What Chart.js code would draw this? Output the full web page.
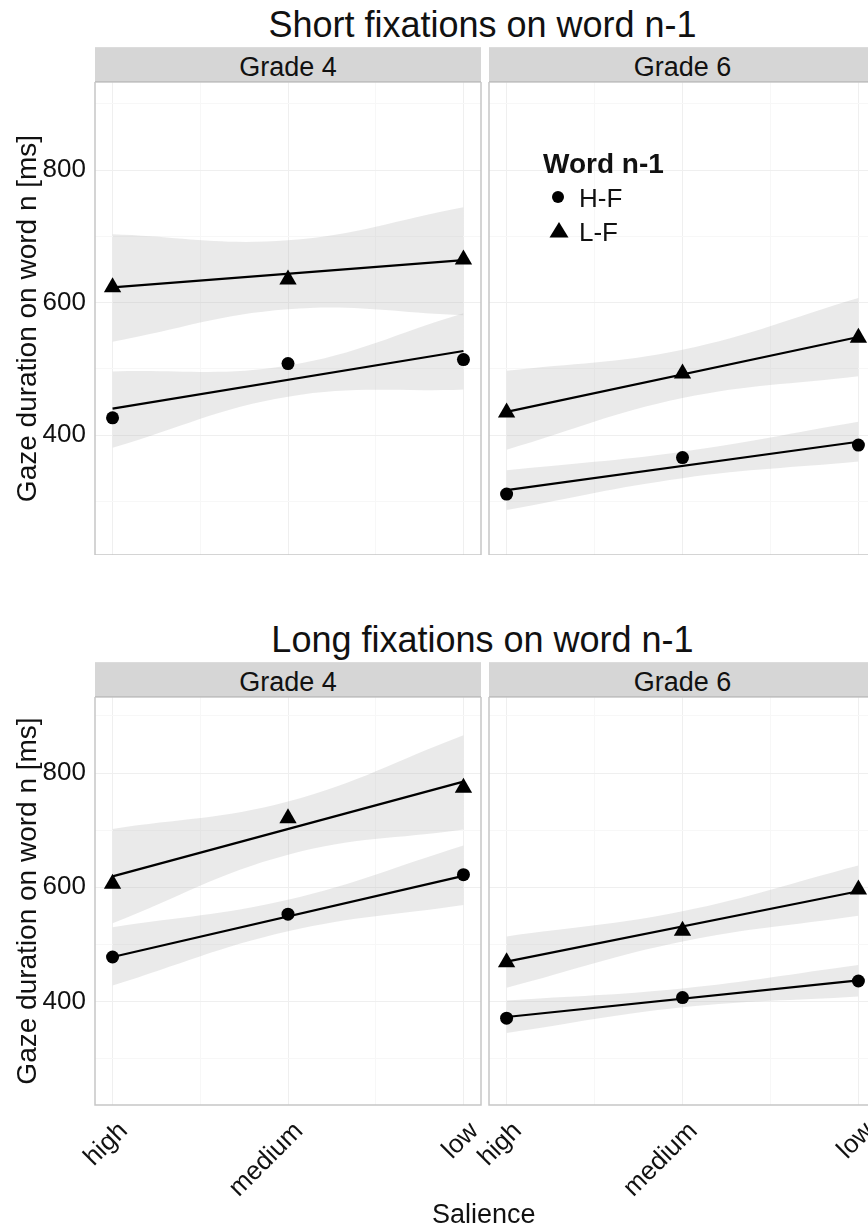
<!DOCTYPE html>
<html>
<head>
<meta charset="utf-8">
<script src="https://cdn.jsdelivr.net/npm/chart.js@4.4.1/dist/chart.umd.min.js"></script>
<style>
html,body{margin:0;padding:0;background:#fff;overflow:hidden;}
#wrap{position:relative;width:868px;height:1226px;overflow:hidden;font-family:"Liberation Sans",Arial,sans-serif;color:#111;}
.title{position:absolute;left:90px;width:785px;text-align:center;font-size:36px;line-height:36px;white-space:nowrap;}
.strip{position:absolute;height:35px;box-sizing:border-box;background:#d6d6d6;border-top:1px solid #dcdcdc;border-bottom:1px solid #c0c0c0;font-size:27px;line-height:31px;padding-top:4px;text-align:center;white-space:nowrap;}
canvas{position:absolute;}
.lg{position:absolute;white-space:nowrap;}
</style>
</head>
<body>
<div id="wrap">
  <div class="title" style="top:7px;">Short fixations on word n-1</div>
  <div class="strip" style="left:95px;top:47px;width:386px;">Grade 4</div>
  <div class="strip" style="left:489px;top:47px;width:387px;">Grade 6</div>
  <canvas id="c1" width="486" height="473" style="left:0;top:82px;"></canvas>
  <canvas id="c2" width="440" height="473" style="left:440px;top:82px;"></canvas>

  <div class="title" style="top:622px;">Long fixations on word n-1</div>
  <div class="strip" style="left:95px;top:662px;width:386px;">Grade 4</div>
  <div class="strip" style="left:489px;top:662px;width:387px;">Grade 6</div>
  <canvas id="c3" width="486" height="529" style="left:0;top:697px;"></canvas>
  <canvas id="c4" width="440" height="529" style="left:440px;top:697px;"></canvas>

  <div class="lg" style="left:543px;top:150px;font-size:28px;line-height:28px;font-weight:bold;">Word n-1</div>
  <svg class="lg" style="left:550px;top:189px;" width="16" height="16"><circle cx="8" cy="8" r="6" fill="#000"/></svg>
  <div class="lg" style="left:579px;top:185px;font-size:26px;line-height:26px;">H-F</div>
  <svg class="lg" style="left:548px;top:221px;" width="22" height="18"><polygon points="11,1 20.5,16.5 1.5,16.5" fill="#000"/></svg>
  <div class="lg" style="left:579px;top:219px;font-size:26px;line-height:26px;">L-F</div>

  <div class="lg" style="left:432px;top:1201px;font-size:27px;line-height:27px;">Salience</div>
</div>

<script>
// ---------- data ----------
const salience = ['high', 'medium', 'low'];
const salienceX = [1, 2, 3];
const xGridValues = [1, 1.5, 2, 2.5, 3];
const yTickValues = [300, 400, 500, 600, 700, 800, 900];
const yLabelValues = [400, 600, 800];
const yTitle = 'Gaze duration on word n [ms]';

// Short fixations on word n-1, Grade 4
const shortG4_HF = [426, 508, 514];
const shortG4_LF = [623, 635, 665];
const shortG4_HF_fit = [440, 527];
const shortG4_LF_fit = [623, 664];
const shortG4_HF_upper = [496, 505, 584];
const shortG4_HF_lower = [381, 458, 469];
const shortG4_LF_upper = [703, 694, 744];
const shortG4_LF_lower = [541, 590, 581];

// Short fixations on word n-1, Grade 6
const shortG6_HF = [311, 366, 385];
const shortG6_LF = [434, 493, 547];
const shortG6_HF_fit = [317, 390];
const shortG6_LF_fit = [435, 548];
const shortG6_HF_upper = [347, 375, 420];
const shortG6_HF_lower = [287, 335, 360];
const shortG6_LF_upper = [497, 529, 607];
const shortG6_LF_lower = [378, 456, 489];

// Long fixations on word n-1, Grade 4
const longG4_HF = [478, 553, 622];
const longG4_LF = [606, 721, 774];
const longG4_HF_fit = [478, 620];
const longG4_LF_fit = [619, 785];
const longG4_HF_upper = [530, 578, 673];
const longG4_HF_lower = [428, 523, 569];
const longG4_LF_upper = [702, 750, 866];
const longG4_LF_lower = [537, 657, 701];

// Long fixations on word n-1, Grade 6
const longG6_HF = [371, 407, 436];
const longG6_LF = [469, 524, 596];
const longG6_HF_fit = [373, 437];
const longG6_LF_fit = [470, 593];
const longG6_HF_upper = [402, 423, 464];
const longG6_HF_lower = [345, 390, 409];
const longG6_LF_upper = [514, 558, 638];
const longG6_LF_lower = [424, 505, 550];

// ---------- chart ----------
const FONT = '"Liberation Sans", Arial, sans-serif';
Chart.defaults.font.family = FONT;
Chart.defaults.color = '#111';
const BAND = 'rgba(170,170,170,0.25)';

const panelBorder = {
  id: 'panelBorder',
  beforeDatasetsDraw(chart) {
    const {ctx, chartArea: a} = chart;
    ctx.save();
    ctx.strokeStyle = '#c6c6c6';
    ctx.lineWidth = 1.5;
    ctx.strokeRect(a.left, a.top, a.right - a.left, a.bottom - a.top);
    ctx.restore();
  }
};

function pts(ys) { return ys.map((y, i) => ({x: salienceX[i], y})); }
function fitPts(f) { return [{x: salienceX[0], y: f[0]}, {x: salienceX[salienceX.length - 1], y: f[1]}]; }

function makePanel(id, d, isLeft, isBottom) {
  const band = (ys, fill) => ({
    data: pts(ys), showLine: true, fill: fill, backgroundColor: BAND,
    borderWidth: 0, borderColor: 'rgba(0,0,0,0)', pointRadius: 0, tension: 0.4, order: 3
  });
  const fit = (f) => ({
    data: fitPts(f), showLine: true, fill: false, borderColor: '#000',
    borderWidth: 2.2, pointRadius: 0, order: 2
  });
  new Chart(document.getElementById(id), {
    type: 'scatter',
    data: {
      datasets: [
        band(d.hfU, '+1'), band(d.hfL, false),
        band(d.lfU, '+1'), band(d.lfL, false),
        fit(d.hfFit), fit(d.lfFit),
        {label: 'H-F', data: pts(d.hf), pointStyle: 'circle', pointRadius: 6.5,
         backgroundColor: '#000', borderWidth: 0, order: 1},
        {label: 'L-F', data: pts(d.lf), pointStyle: 'triangle', pointRadius: 10,
         backgroundColor: '#000', borderWidth: 0, order: 1}
      ]
    },
    options: {
      responsive: false, animation: false,
      layout: {autoPadding: false, padding: {left: 0, top: 0, bottom: 0, right: isLeft ? 5 : 4}},
      plugins: {legend: {display: false}, tooltip: {enabled: false}},
      scales: {
        x: {
          type: 'linear', min: 0.9, max: 3.1,
          afterBuildTicks: s => { s.ticks = xGridValues.map(v => ({value: v})); },
          afterFit: s => { s.height = isBottom ? 121 : 0; s.paddingLeft = 0; s.paddingRight = 0; s.paddingTop = 0; s.paddingBottom = 0; },
          ticks: {
            display: isBottom, autoSkip: false, minRotation: 45, maxRotation: 45,
            padding: 11, labelOffset: 11,
            font: {size: 26}, color: '#111',
            callback: v => Number.isInteger(v) ? salience[salienceX.indexOf(v)] : ''
          },
          grid: {drawTicks: false, lineWidth: 1,
                 color: c => Number.isInteger(c.tick.value) ? '#efefef' : '#f7f7f7'},
          border: {display: false}
        },
        y: {
          min: 219, max: 933,
          afterBuildTicks: s => { s.ticks = yTickValues.map(v => ({value: v})); },
          afterFit: s => { s.width = isLeft ? 95 : 49; s.paddingTop = 0; s.paddingBottom = 0; s.paddingLeft = 0; s.paddingRight = 0; },
          ticks: {
            display: isLeft, padding: 9, font: {size: 26}, color: '#111',
            callback: v => yLabelValues.includes(v) ? String(v) : ''
          },
          grid: {drawTicks: false, lineWidth: 1,
                 color: c => yLabelValues.includes(c.tick.value) ? '#efefef' : '#f7f7f7'},
          border: {display: false},
          title: {display: isLeft, text: yTitle, font: {size: 28}, color: '#111',
                  padding: {top: 11, bottom: 0}}
        }
      }
    },
    plugins: [panelBorder]
  });
}

makePanel('c1', {hf: shortG4_HF, lf: shortG4_LF, hfFit: shortG4_HF_fit, lfFit: shortG4_LF_fit,
  hfU: shortG4_HF_upper, hfL: shortG4_HF_lower, lfU: shortG4_LF_upper, lfL: shortG4_LF_lower}, true, false);
makePanel('c2', {hf: shortG6_HF, lf: shortG6_LF, hfFit: shortG6_HF_fit, lfFit: shortG6_LF_fit,
  hfU: shortG6_HF_upper, hfL: shortG6_HF_lower, lfU: shortG6_LF_upper, lfL: shortG6_LF_lower}, false, false);
makePanel('c3', {hf: longG4_HF, lf: longG4_LF, hfFit: longG4_HF_fit, lfFit: longG4_LF_fit,
  hfU: longG4_HF_upper, hfL: longG4_HF_lower, lfU: longG4_LF_upper, lfL: longG4_LF_lower}, true, true);
makePanel('c4', {hf: longG6_HF, lf: longG6_LF, hfFit: longG6_HF_fit, lfFit: longG6_LF_fit,
  hfU: longG6_HF_upper, hfL: longG6_HF_lower, lfU: longG6_LF_upper, lfL: longG6_LF_lower}, false, true);
</script>
</body>
</html>
